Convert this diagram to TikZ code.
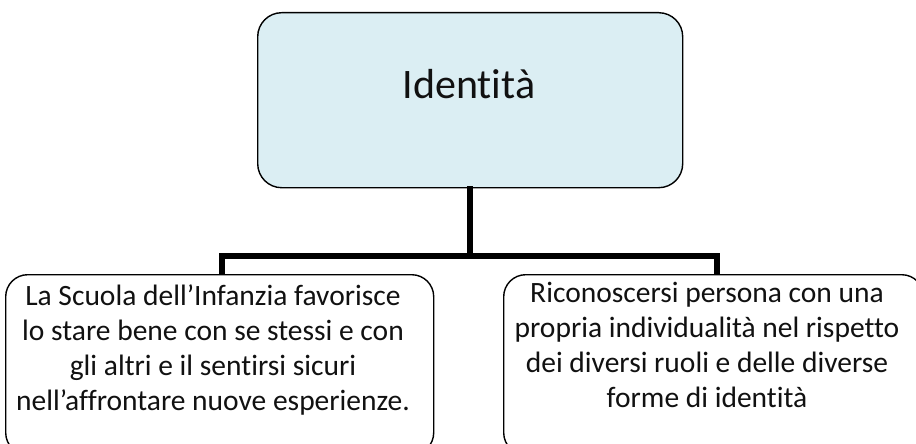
\documentclass[tikz,border=0pt]{standalone}
\usepackage{fontspec}
\setmainfont[Ligatures=NoCommon]{Carlito}
\definecolor{topfill}{HTML}{DBEEF3}
\definecolor{ink}{HTML}{111111}
\begin{document}
\begin{tikzpicture}[x=1pt,y=-1pt,
  box/.style={draw=black, line width=1.4pt, rounded corners=24pt, inner sep=0pt, anchor=north west},
  conn/.style={draw=black, line width=5.5pt, line cap=rect},
  txt/.style={text=ink, font=\fontsize{29.5}{35}\selectfont, align=center, anchor=base, inner sep=0pt}]
\path[use as bounding box, fill=white] (0,0) rectangle (916,444);
\begin{scope}
\clip (0,0) rectangle (916,444);
\node[box, fill=topfill, minimum width=425pt, minimum height=175pt] (top) at (257,12) {};
\node[box, rounded corners=22pt, minimum width=428pt, minimum height=180pt] (L) at (5,274) {};
\node[box, rounded corners=22pt, minimum width=420pt, minimum height=180pt] (R) at (503,274) {};
\end{scope}
\node[text=ink, font=\fontsize{42}{50}\selectfont, anchor=base, inner sep=0pt] (ttl) at (469,99) {Identità};
\coordinate (jn) at (470,256);
\coordinate (jl) at (222,256);
\coordinate (jr) at (717,256);
\draw[conn] (top.south -| jn) -- (jn);
\draw[conn, line cap=butt] (jl |- L.north) -- (jl) -- (jr) -- (jr |- R.north);
\node[txt] (lt) at (213,410) {La Scuola dell’Infanzia favorisce\\lo stare bene con se stessi e con\\gli altri e il sentirsi sicuri\\nell’affrontare nuove esperienze.};
\node[txt] (rt) at (707,407) {Riconoscersi persona con una\\propria individualità nel rispetto\\dei diversi ruoli e delle diverse\\forme di identità};
\end{tikzpicture}
\end{document}
